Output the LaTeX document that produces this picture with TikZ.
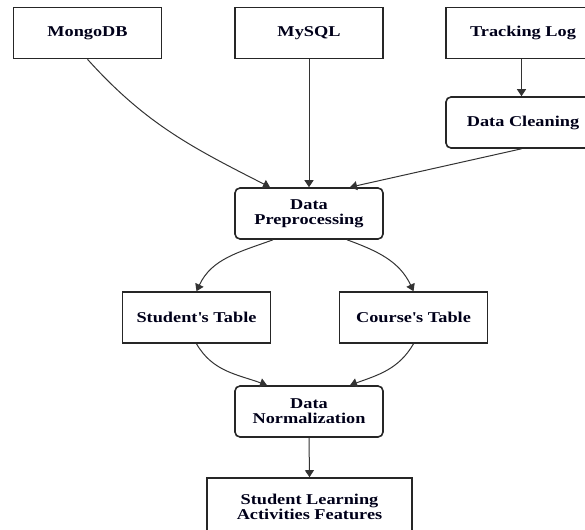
\documentclass[tikz,border=0pt]{standalone}
\usepackage{fontspec}
\setmainfont{Liberation Serif}[FakeStretch=1.22]
\usetikzlibrary{arrows.meta}
\begin{document}
\begin{tikzpicture}[x=1pt,y=1pt,
  box/.style={draw=black!85, line width=1.6pt, minimum width=148pt, minimum height=51pt,
    inner sep=0pt, align=center, font=\fontsize{15}{15}\selectfont\bfseries, text=black!90!blue},
  rbox/.style={box, rounded corners=5pt},
  conn/.style={draw=black!80, line width=1pt, -{Triangle[length=7pt,width=9pt]}}]
\useasboundingbox (0,0) rectangle (585,-529);
\clip (0,0) rectangle (585,-529);
\node[box] (mongo) at (87.5,-33) {MongoDB};
\node[box] (mysql) at (309,-33) {MySQL};
\node[box, minimum width=154pt] (track) at (523,-33) {Tracking Log};
\node[rbox, minimum width=154pt] (clean) at (523,-122.5) {Data Cleaning};
\node[rbox] (prep) at (309,-213.5) {Data\\Preprocessing};
\node[box] (stud) at (196.5,-317.5) {Student\textquotesingle s Table};
\node[box] (course) at (413.5,-317.5) {Course\textquotesingle s Table};
\node[rbox] (norm) at (309,-411.5) {Data\\Normalization};
\node[box, minimum width=205pt, minimum height=58pt] (feat) at (309.5,-507) {Student Learning\\Activities Features};
\draw[conn] (mongo.south) to[out=-48,in=153] ([xshift=-39pt]prep.north);
\draw[conn] (mysql.south) -- (prep.north);
\draw[conn] ([xshift=-1.5pt]track.south) -- ([xshift=-1.5pt]clean.north);
\draw[conn] ([xshift=-1.5pt]clean.south) -- ([xshift=41pt]prep.north);
\draw[conn] ([xshift=-36pt]prep.south) to[out=200,in=65] (stud.north);
\draw[conn] ([xshift=38pt]prep.south) to[out=-20,in=115] (course.north);
\draw[conn] (stud.south) to[out=-60,in=160] ([xshift=-42pt]norm.north);
\draw[conn] (course.south) to[out=-120,in=20] ([xshift=41pt]norm.north);
\draw[conn] (norm.south) -- (feat.north);
\end{tikzpicture}
\end{document}
